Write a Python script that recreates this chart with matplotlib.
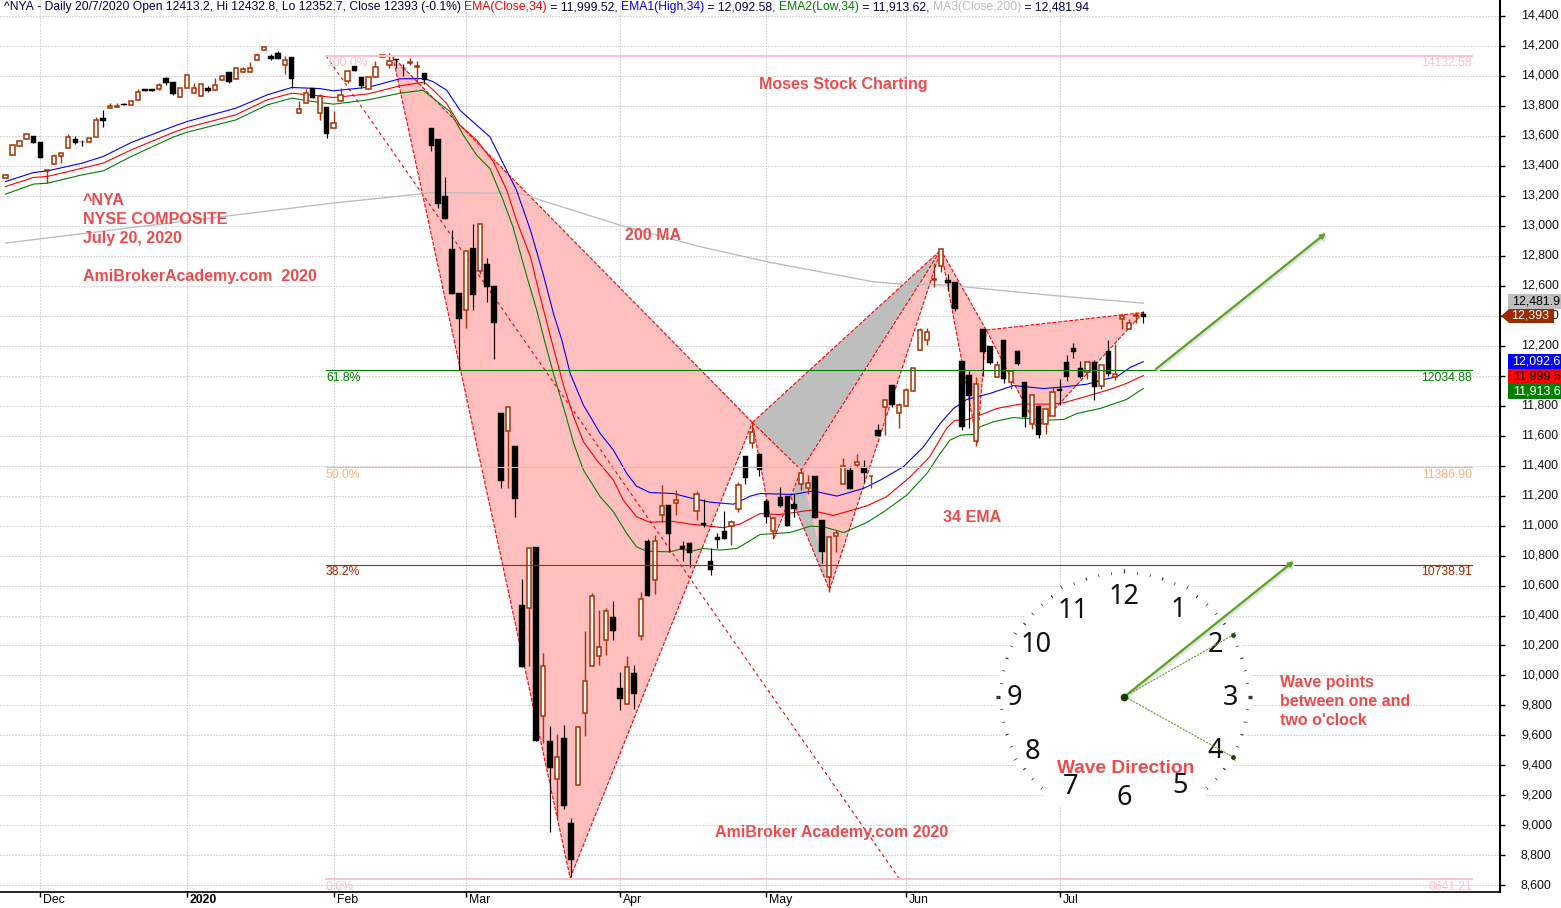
import matplotlib
matplotlib.use('Agg')
import matplotlib.pyplot as plt
import numpy as np
from matplotlib.patches import Circle, Polygon, Rectangle
from matplotlib.transforms import ScaledTranslation

plt.rcParams['font.family'] = ['Liberation Sans', 'DejaVu Sans']

# Daily bars ^NYA
opens = [13315,13472,13531,13580,13598,13556,13362,13409,13464,13516,13575,13558,13556,13589,13718,13782,13793,13809,13802,13836,
         13909,13909,13913,13982,13956,13856,13916,13884,13862,13916,13902,13973,14022,13980,14024,14022,14104,14167,14129,14149,
         14069,14122,13747,13816,13916,13747,13789,13653,13829,13964,14064,13989,13909,13987,14122,14069,14109,14051,14085,14058,
         14016,13653,13576,13196,12842,12549,12440,12847,12698,12742,12596,11749,11633,11529,10469,10447,10856,9727,9562,9313,
         9582,9016,9273,9747,10060,10133,10240,10389,9916,9813,10016,10264,10896,10640,11067,11136,11151,10862,10882,11100,
         11018,10762,10922,10962,11000,11107,11462,11547,11476,11162,10964,11189,11196,11142,11278,11247,11333,11036,10658,10927,
         11280,11373,11404,11391,11329,11636,11787,11936,11751,11798,11900,12173,12240,12638,12731,12636,12622,12096,12002,11564,
         12309,12196,11991,12240,11960,12162,11956,11680,11796,11680,11733,11909,12089,12182,12053,12024,12091,11933,12162,11987,
         12378,12311,12396,12413]
highs = [13345,13535,13560,13607,13600,13556,13367,13480,13482,13609,13598,13571,13587,13722,13771,13820,13815,13815,13833,13909,
         13909,13909,13949,13989,13960,13916,14002,13949,13940,13927,13984,14000,14022,14047,14060,14091,14149,14189,14144,14164,
         14127,14122,13827,13907,13916,13878,13789,13764,13916,14027,14064,13989,13989,14098,14138,14149,14109,14078,14116,14100,
         14016,13653,13576,13324,12973,12549,12827,13009,13013,12782,12596,11749,11793,11529,10642,10853,10856,10147,9662,9613,
         9667,9047,9665,10296,10549,10440,10447,10496,10024,10133,10069,10558,10911,10936,11269,11136,11236,10898,10891,11227,
         11180,10853,10949,11096,11040,11293,11462,11684,11484,11180,11060,11256,11196,11213,11373,11340,11333,11036,10924,10969,
         11447,11400,11476,11440,11333,11676,11840,11936,11818,11920,12050,12320,12320,12747,12853,12680,12622,12096,12031,11991,
         12309,12196,12100,12240,12027,12168,11956,11867,11802,11780,11924,11976,12136,12218,12098,12087,12102,12073,12236,12207,
         12413,12378,12424,12433]
lows = [13315,13472,13531,13580,13547,13447,13282,13409,13415,13516,13544,13527,13556,13589,13660,13782,13793,13802,13802,13836,
        13900,13896,13905,13938,13871,13856,13916,13884,13862,13889,13902,13973,13949,13980,14024,14022,14104,14167,14104,14113,
        14011,13916,13747,13816,13847,13704,13582,13653,13829,13953,14033,13920,13909,13987,14122,14053,14047,13998,14071,13960,
        13944,13498,13118,13044,12544,12036,12318,12436,12680,12491,12111,11247,11251,11058,10058,10062,9564,9547,8958,9047,
        9111,8658,9273,9598,10060,10069,10136,10236,9769,9813,9776,10236,10531,10542,11024,10824,11069,10764,10724,11036,
        10991,10671,10849,10909,10869,11091,11280,11520,11329,11018,10907,11125,10998,11060,11240,11209,11051,10747,10558,10824,
        11280,11244,11391,11291,11247,11598,11602,11787,11651,11798,11900,12173,12202,12591,12691,12569,12430,11636,11647,11531,
        11996,12075,11991,11951,11913,12069,11658,11642,11584,11609,11733,11802,11964,12118,11984,11980,11836,11911,11996,11973,
        12313,12311,12347,12352]
closes = [13340,13535,13560,13607,13547,13447,13367,13462,13482,13589,13553,13554,13582,13702,13700,13798,13798,13802,13833,13887,
          13900,13896,13940,13949,13878,13916,14002,13920,13940,13900,13936,14000,13960,14047,14042,14053,14140,14189,14111,14113,
          14102,13980,13776,13882,13847,13862,13611,13682,13867,14027,14033,13927,13989,14056,14138,14100,14104,14047,14089,14062,
          13971,13529,13144,13044,12544,12378,12827,12536,13013,12589,12351,11298,11793,11178,10058,10853,9564,10060,9385,9460,
          9131,8771,9660,9960,10533,10187,10433,10298,9844,10060,9878,10513,10531,10900,11133,10942,11173,10842,10818,11207,
          11004,10704,10902,10909,11022,11267,11318,11620,11369,11058,11053,11131,10998,11113,11353,11280,11051,10824,10924,10947,
          11398,11244,11420,11351,11333,11598,11840,11804,11800,11900,12047,12300,12287,12642,12840,12618,12442,11658,11862,11940,
          12158,12084,12073,11980,12027,12076,11724,11867,11604,11780,11893,11898,11991,12158,11991,12087,11924,12073,12007,12013,
          12396,12353,12400,12393]

# Indicator lines, x is bar number
ema_high_x = [0,4,6,11,14,18,24,26,33,37.5,41,45,47,52,56.5,60,61.3,63.2,65.1,67.5,69.4,71.3,73.2,75.2,77,78.5,79.7,80.9,82.8,85.2,
              87.1,89,90.4,92.3,95.7,98.1,100.9,104.3,106.7,108.1,112.9,115.7,119.1,122.9,125.3,128.6,131.5,133.9,135.8,137.7,141,
              144.4,148.7,151.6,154.9,157.8,159.2,161.1,163]
ema_high = [13293,13353,13364,13416,13460,13553,13660,13693,13782,13871,13920,13913,13898,13922,13978,13980,13958,13902,13769,13669,
            13591,13413,13236,12969,12680,12413,12236,12013,11802,11613,11502,11347,11262,11220,11213,11184,11156,11142,11196,11213,
            11207,11231,11196,11247,11302,11391,11524,11680,11780,11840,11880,11933,11913,11924,11942,11978,11991,12053,12092.6]
ema_close_x = [0,4,6,11,14,18,24,26,33,37.5,41,45,47,52,56.5,60,61.3,63.2,65.1,67.5,69.9,71.8,73.2,75.2,76.6,78.2,80,81.4,82.8,84.7,
               87.1,88.5,90.4,92.3,95.7,98.1,100.5,102.8,105.2,108.1,110.9,115.3,118.6,123.4,126.2,129.6,132.4,134.8,136,137.5,139.6,
               142,145.3,149.7,151.6,154.9,158.2,160.6,163]
ema_close = [13260,13320,13327,13382,13416,13504,13620,13653,13738,13838,13882,13864,13853,13878,13931,13956,13902,13813,13669,13569,
             13424,13236,13036,12791,12524,12236,11924,11724,11558,11436,11302,11169,11058,11022,11027,11009,10998,10985,11009,11080,
             11073,11102,11067,11131,11191,11324,11458,11647,11702,11702,11736,11780,11809,11809,11818,11862,11907,11947,11999.5]
ema_low_x = [0,4,6,11,14,18,24,26,33,37.5,41,45,47,52,56.5,59.8,61.3,63.7,65.6,67.5,69.4,71.1,72.7,74.7,76.1,77.2,78.5,80.2,81.4,82.8,
             85.2,87.1,89,90.4,91.8,95.2,96.6,98.5,99.9,102.3,104.8,108.1,112.4,115.3,117.2,120.1,123.4,125.8,129.1,132,133.9,135.3,
             136.8,139,139.6,141.5,144.4,149.2,151.6,153.5,156.8,160.6,163]
ema_low = [13209,13276,13282,13338,13364,13460,13589,13622,13704,13804,13849,13820,13809,13838,13882,13902,13847,13758,13602,13469,
           13380,13191,12991,12658,12436,12236,12013,11747,11547,11369,11191,11091,10947,10858,10829,10824,10842,10831,10847,10836,
           10847,10940,10953,10996,10991,10953,11020,11091,11202,11347,11480,11569,11602,11609,11658,11691,11720,11702,11707,11747,
           11780,11840,11913.6]
ma200_x = [0,47,59.4,60.8,73.7,76.6,88,99.5,109.1,124.3,128,135,137.2,149.2,163]
ma200 = [12883,13150,13210,13219,13215,13170,13003,12859,12758,12625,12610,12603,12592,12537,12482]

# Harmonic pattern pivots (bar, price)
piv_x = (55.5, 14123)
piv_a = (80.9, 8650)
piv_b = (107.0, 11687)
piv_f = (110.1, 10917)
piv_g = (114.0, 11370)
piv_g2 = (112.5, 11190)
piv_e = (118.05, 10570)
piv_d = (134.0, 12837)
piv_h = (139.2, 11550)
piv_i = (140.5, 12303)
piv_l = (147.8, 11650)
piv_k = (163.0, 12420)

# Fibonacci retracement
fib_pct = ['100.0%', '61.8%', '50.0%', '38.2%', '0.0%']
fib_val = [14132.58, 12034.88, 11386.90, 10738.91, 8641.21]
fib_col = ['#FFC0CB', '#008000', '#FFB27A', '#A52A00', '#FFC0CB']
fib_start = 45.9
fib_end = 210.1

price_ticks = list(range(8600, 14401, 200))
month_pos = [5, 26, 47, 66, 88, 109, 129, 151]
month_lab = ['Dec', '2020', 'Feb', 'Mar', 'Apr', 'May', 'Jun', 'Jul']

# right hand value tags: text, centre px, fill, text colour
tag_txt = ['12,481.9', '12,092.6', '11,999.5', '11,913.6']
tag_y = [301.5, 361.5, 376.5, 391.5]
tag_bg = ['#BEBEBE', '#0000FF', '#FF0000', '#008000']
tag_fg = ['black', 'white', 'black', 'white']

W, H = 1561, 908
PINK = '#FFBFBF'
GRAY = '#BEBEBE'
BROWN = '#A83200'
ANNO = '#EF4B4B'
GREEN_A = '#5FA32A'

fig = plt.figure(figsize=(W / 100, H / 100), dpi=100, facecolor='white')
ax = fig.add_axes([0, 16 / H, 1500 / W, 892 / H])
ax.set_xlim(-0.788, 214.1)
ax.set_ylim(14400 - (892 - 15.5) / 0.15, 14400 + 15.5 / 0.15)

ax.set_yticks(price_ticks)
ax.set_yticklabels([f'{v:,}' for v in price_ticks], fontsize=8.9, color='#111111')
ax.yaxis.tick_right()
ax.tick_params(axis='y', length=3.6, width=1, pad=11.5, direction='out')
for lab in ax.get_yticklabels():
    lab.set_transform(lab.get_transform() + ScaledTranslation(0, 1 / 100, fig.dpi_scale_trans))
ax.set_xticks(month_pos)
ax.set_xticklabels(month_lab, fontsize=8.8, ha='left')
ax.tick_params(axis='x', length=3.6, width=1, pad=-2.5, direction='out')
for lab in ax.get_xticklabels():
    lab.set_transform(lab.get_transform() + ScaledTranslation(3 / 100, 0, fig.dpi_scale_trans))
    if lab.get_text() == '2020':
        lab.set_fontweight('bold')
ax.grid(True, color='#B0B0B0', linewidth=0.72, linestyle=(0, (1, 2)))
ax.set_axisbelow(True)
for s in ['top', 'left']:
    ax.spines[s].set_visible(False)
ax.spines['right'].set_linewidth(1.5)
ax.spines['bottom'].set_linewidth(1.2)

# pattern fills
pink_polys = [[piv_x, piv_a, piv_b], [piv_b, piv_f, piv_g], [piv_g, piv_e, piv_d],
              [piv_d, piv_h, piv_i], [piv_i, piv_l, piv_k]]
gray_polys = [[piv_b, piv_d, piv_g], [piv_g, piv_e, piv_g2]]
for pts in pink_polys:
    ax.add_patch(Polygon(pts, closed=True, facecolor=PINK, edgecolor='none', zorder=1))
for pts in gray_polys:
    ax.add_patch(Polygon(pts, closed=True, facecolor=GRAY, edgecolor='none', zorder=1.1))
# each pattern leg once, otherwise the dashes fill each other in
legs = [(piv_x, piv_a), (piv_a, piv_b), (piv_b, piv_x), (piv_b, piv_f), (piv_f, piv_g), (piv_b, piv_g),
        (piv_g, piv_d), (piv_e, piv_d), (piv_b, piv_d), (piv_g2, piv_e), (piv_d, piv_h), (piv_h, piv_i),
        (piv_i, piv_d), (piv_i, piv_k), (piv_k, piv_l), (piv_l, piv_i)]
for p0, p1 in legs:
    ax.plot([p0[0], p1[0]], [p0[1], p1[1]], color='#FF0000', lw=0.8, ls=(0, (3.5, 1.5)), zorder=1.2)
# long trend line of the retracement
ax.plot([45.9, 128.1], [14132.58, 8641.21], color='#FF0000', lw=0.8, ls=(0, (3, 3)), zorder=1.3)

ax.plot(ma200_x, ma200, color='#BBBBBB', lw=0.95, zorder=2)
ax.plot(ema_high_x, ema_high, color='#0000FF', lw=0.8, zorder=2.1)
ax.plot(ema_close_x, ema_close, color='#FF0000', lw=0.8, zorder=2.1)
ax.plot(ema_low_x, ema_low, color='#008000', lw=0.8, zorder=2.1)

# candles
o = np.array(opens, float)
h = np.array(highs, float)
l = np.array(lows, float)
c = np.array(closes, float)
idx = np.arange(len(o))
up = c >= o
ax.vlines(idx[up], l[up], h[up], color=BROWN, lw=1.0, zorder=3)
ax.vlines(idx[~up], l[~up], h[~up], color='black', lw=0.85, zorder=3)
ax.bar(idx[up], (c - o)[up], bottom=o[up], width=0.6, facecolor='white', edgecolor=BROWN, linewidth=1.1, zorder=3.2)
ax.bar(idx[~up], (o - c)[~up], bottom=c[~up], width=0.8, facecolor='black', edgecolor='black', linewidth=0.3, zorder=3.2)

# fib lines and labels
for pct, val, col in zip(fib_pct, fib_val, fib_col):
    lw = 1.4 if col == '#FFC0CB' else 0.8
    ax.plot([fib_start, fib_end], [val, val], color=col, lw=lw, zorder=4)
    ax.annotate(pct, (fib_start, val), xytext=(0, -7.5), textcoords='offset pixels', color=col,
                fontsize=8.8, ha='left', va='center', zorder=4)
    ax.annotate(f'{val:.2f}', (fib_end, val), xytext=(0, -7.5), textcoords='offset pixels', color=col,
                fontsize=8.8, ha='right', va='center', zorder=4)

# overlay in pixels for the pasted in notes and the clock picture
ov = fig.add_axes([0, 0, 1, 1], facecolor='none')
ov.set_xlim(0, W)
ov.set_ylim(H, 0)
ov.axis('off')


def note(x, y, s, size=11.55):
    ov.text(x, y + 1.5, s, color=ANNO, fontsize=size, fontweight='bold', ha='left', va='center', zorder=8)


note(83, 199, '^NYA')
note(83, 218, 'NYSE COMPOSITE')
note(83, 237, 'July 20, 2020')
note(83, 275, 'AmiBrokerAcademy.com  2020')
note(625, 234, '200 MA')
note(759, 83, 'Moses Stock Charting')
note(943, 516, '34 EMA')
note(715, 831, 'AmiBroker Academy.com 2020')
note(1280, 681, 'Wave points')
note(1280, 700, 'between one and')
note(1280, 719, "two o'clock")

# clock
cx, cy = 1124.5, 696.5
ov.add_patch(Circle((cx, cy), 128, facecolor='white', edgecolor='none', zorder=5))
for m in range(60):
    a = np.deg2rad(m * 6)
    r0, r1 = (122, 125) if m % 5 else (124, 128)
    if m in (15, 45):
        lw = 2.4
    elif m % 3 == 0:
        lw = 0.9
    else:
        lw = 0.55
    if 24 <= m <= 36:
        continue
    ov.plot([cx + r0 * np.sin(a), cx + r1 * np.sin(a)], [cy - r0 * np.cos(a), cy - r1 * np.cos(a)],
            color='#333333', lw=lw, solid_capstyle='butt', zorder=5.1)
clock_num = ['12', '1', '2', '3', '4', '5', '6', '7', '8', '9', '10', '11']
clock_x = [1124, 1178, 1215, 1231, 1215, 1180, 1124, 1071, 1032, 1014, 1036, 1073]
clock_y = [597, 610, 645, 698, 751, 786, 798, 787, 752, 698, 645, 611]
for s, x, y in zip(clock_num, clock_x, clock_y):
    ov.text(x, y, s, fontsize=19.5, color='#111111', ha='center', va='center', zorder=5.2, family='Noto Sans')
note(1057, 767, 'Wave Direction', size=13.8)


def arrow(x0, y0, x1, y1, col, lw, scale, z=6):
    ov.annotate('', xy=(x1, y1), xytext=(x0, y0),
                arrowprops=dict(arrowstyle='-|>', color=col, lw=lw, mutation_scale=scale, shrinkA=0, shrinkB=0),
                zorder=z)


for (x0, y0, x1, y1) in [(1156, 369, 1326, 233), (1124, 697, 1294, 561)]:
    arrow(x0 + 1.5, y0 + 2, x1 + 1.5, y1 + 2, '#E2E2E2', 1.7, 7, z=5.8)
    arrow(x0, y0, x1, y1, GREEN_A, 1.7, 7)
for x1, y1 in [(1233, 635), (1233, 757)]:
    ov.plot([cx, x1], [cy, y1], color=GREEN_A, lw=0.8, ls=(0, (2, 1)), zorder=6)
    ov.plot([x1], [y1], marker='o', ms=2.5, color='#1F4D10', zorder=6)
ov.plot([cx], [cy], marker='o', ms=4.5, color='#173A0C', zorder=6.1)

# value tags
for s, y, bg, fg in zip(tag_txt, tag_y, tag_bg, tag_fg):
    ov.add_patch(Rectangle((1508, y - 7.5), 53, 15, facecolor=bg, edgecolor='none', zorder=9))
    ov.text(1560.5, y, s, color=fg, fontsize=8.9, ha='right', va='center', zorder=9.1)
ov.add_patch(Polygon([(1501, 316), (1509, 309), (1554, 309), (1554, 323), (1509, 323)], closed=True,
                     facecolor='#9E2A00', edgecolor='none', zorder=9))
ov.text(1549.5, 316, '12,393', color='white', fontsize=8.9, ha='right', va='center', zorder=9.1)

# header, pieces chained one after the other
head = [('^NYA - Daily 20/7/2020 Open 12413.2, Hi 12432.8, Lo 12352.7, Close 12393 (-0.1%) ', '#000050'),
        ('EMA(Close,34)', '#FF0000'), (' = 11,999.52, ', '#000050'),
        ('EMA1(High,34)', '#0000FF'), (' = 12,092.58, ', '#000050'),
        ('EMA2(Low,34)', '#008000'), (' = 11,913.62, ', '#000050'),
        ('MA3(Close,200)', '#BEBEBE'), (' = 12,481.94', '#000050')]
rend = fig.canvas.get_renderer()
px = 4.0
for s, col in head:
    t = ov.text(px, 7, s.replace(' ', '\u00a0'), color=col, fontsize=8.72, ha='left', va='center', zorder=9)
    px = t.get_window_extent(rend).x1

fig.savefig('out.png', dpi=100)
